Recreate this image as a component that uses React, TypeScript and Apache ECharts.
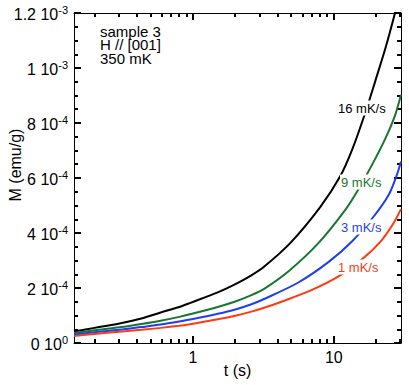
import React, { useEffect, useRef } from 'react';
import * as echarts from 'echarts';

// ---- data (t in s, M in emu/g) ----
const blackT = [0.143, 0.2, 0.29, 0.43, 0.59, 0.8, 0.97, 1.5, 1.97, 2.58, 3.21, 4.92, 8.03, 11.1, 13.5, 16.8, 19.8, 23.5, 27.2];
const blackM = [4.2e-5, 5.5e-5, 6.9e-5, 8.9e-5, 1.11e-4, 1.31e-4, 1.47e-4, 1.84e-4, 2.12e-4, 2.45e-4, 2.78e-4, 3.64e-4, 4.95e-4, 6.06e-4, 7.03e-4, 8.4e-4, 9.56e-4, 1.08e-3, 1.2e-3];

const greenT = [0.143, 0.2, 0.3, 0.43, 0.59, 0.8, 1, 1.5, 2, 2.6, 3.2, 4.8, 7.8, 12.1, 15, 19, 23.3, 27.1, 30];
const greenM = [3.6e-5, 4.6e-5, 5.7e-5, 6.9e-5, 8.1e-5, 9.5e-5, 1.07e-4, 1.31e-4, 1.51e-4, 1.74e-4, 1.97e-4, 2.62e-4, 3.64e-4, 4.85e-4, 5.6e-4, 6.55e-4, 7.45e-4, 8.25e-4, 9.03e-4];

const blueT = [0.143, 0.2, 0.3, 0.43, 0.59, 0.8, 1, 1.5, 2, 2.6, 3.2, 5.6, 9.2, 13.5, 19.2, 24.6, 28.2, 30];
const blueM = [3.1e-5, 3.9e-5, 4.8e-5, 5.8e-5, 6.7e-5, 7.8e-5, 8.7e-5, 1.06e-4, 1.22e-4, 1.41e-4, 1.6e-4, 2.2e-4, 2.95e-4, 3.7e-4, 4.6e-4, 5.4e-4, 6.15e-4, 6.6e-4];

const redT = [0.143, 0.2, 0.3, 0.43, 0.59, 0.8, 1, 1.5, 2, 2.6, 3.2, 4.3, 7, 10.8, 15.9, 21.4, 26, 30];
const redM = [2.5e-5, 3.3e-5, 4.1e-5, 4.8e-5, 5.5e-5, 6.3e-5, 7.0e-5, 8.6e-5, 9.9e-5, 1.14e-4, 1.28e-4, 1.51e-4, 1.93e-4, 2.42e-4, 3.05e-4, 3.68e-4, 4.28e-4, 4.87e-4];

const seriesNames = ['16 mK/s', '9 mK/s', '3 mK/s', '1 mK/s'];
const seriesColors = ['#000000', '#17762f', '#1f3ef0', '#ff3a12'];

// ---- axes ----
const X_MIN = 0.143;
const X_MAX = 30;
const xMajorTicks = [1, 10];
const xTickLabels = ['1', '10'];
const xMinorTicks = [0.2, 0.3, 0.4, 0.5, 0.6, 0.7, 0.8, 0.9, 2, 3, 4, 5, 6, 7, 8, 9, 20, 30];

const Y_MIN = 0;
const Y_MAX = 1.2e-3;
const Y_INTERVAL = 2e-4;
const yTickMantissa = ['0', '2', '4', '6', '8', '1', '1.2'];
const yTickExponent = ['0', '-4', '-4', '-4', '-4', '-3', '-3'];

const infoLines = ['sample 3', 'H // [001]', '350 mK'];

const FONT = '"Liberation Sans", Arial, Helvetica, sans-serif';
const MAJOR_LEN = 7;
const MINOR_LEN = 4;
const TICK_W = 2;

export default function App() {
  const ref = useRef<HTMLDivElement>(null);
  useEffect(() => {
    document.body.style.margin = '0';
    if (!ref.current) return;
    const chart = echarts.init(ref.current, undefined, { renderer: 'svg' });

    // x tick values on the log axis (major flag in 3rd slot)
    const xTickData = [
      ...xMajorTicks.map((t) => [t, Y_MIN, 1]),
      ...xMinorTicks.map((t) => [t, Y_MIN, 0]),
    ];

    const xTickSeries = {
      type: 'custom',
      data: xTickData,
      renderItem: (_p: any, api: any) => {
        const t = api.value(0);
        const len = api.value(2) ? MAJOR_LEN : MINOR_LEN;
        const b = api.coord([t, Y_MIN]);
        const top = api.coord([t, Y_MAX]);
        const xr = api.coord([X_MAX, Y_MIN])[0];
        const x = Math.min(Math.round(b[0] - TICK_W / 2), xr - TICK_W);
        return {
          type: 'group',
          children: [
            { type: 'rect', shape: { x, y: b[1] - len, width: TICK_W, height: len }, style: { fill: '#000' } },
            { type: 'rect', shape: { x, y: top[1], width: TICK_W, height: len }, style: { fill: '#000' } },
          ],
        };
      },
    };

    const xAx = (position: string, labels: boolean) => ({
      type: 'log',
      logBase: 10,
      gridIndex: 0,
      position,
      min: X_MIN,
      max: X_MAX,
      name: labels ? 't (s)' : '',
      nameLocation: 'middle',
      nameGap: 19,
      nameMoveOverlap: false,
      nameTextStyle: { fontSize: 16, color: '#000', fontFamily: FONT },
      axisLine: { show: true, onZero: false, lineStyle: { color: '#000', width: 1 } },
      axisTick: { show: false },
      axisLabel: labels
        ? {
            show: true,
            customValues: xMajorTicks,
            margin: 6,
            fontSize: 16,
            color: '#000',
            fontFamily: FONT,
            formatter: (v: number) => {
              const i = xMajorTicks.findIndex((t) => Math.abs(Math.log10(t) - Math.log10(v)) < 1e-6);
              return i >= 0 ? xTickLabels[i] : '';
            },
          }
        : { show: false },
      splitLine: { show: false },
      minorSplitLine: { show: false },
    });

    const yAx = (position: string, labels: boolean) => ({
      type: 'value',
      position,
      min: Y_MIN,
      max: Y_MAX,
      interval: Y_INTERVAL,
      axisLine: { show: true, onZero: false, lineStyle: { color: '#000', width: 1 } },
      axisTick: { show: true, inside: true, length: MAJOR_LEN, lineStyle: { color: '#000', width: TICK_W } },
      minorTick: { show: true, splitNumber: 4, length: MINOR_LEN, lineStyle: { color: '#000', width: TICK_W } },
      splitLine: { show: false },
      minorSplitLine: { show: false },
      axisLabel: labels
        ? {
            show: true,
            margin: 6,
            color: '#000',
            fontFamily: FONT,
            formatter: (_v: number, idx: number) =>
              `{m|${yTickMantissa[idx]} 10}{e|${yTickExponent[idx]}}`,
            rich: {
              m: { fontSize: 16, fontFamily: FONT, color: '#000', verticalAlign: 'bottom' },
              e: { fontSize: 11, fontFamily: FONT, color: '#000', verticalAlign: 'bottom', padding: [0, 0, 7, 0] },
            },
          }
        : { show: false },
    });

    const ts = [blackT, greenT, blueT, redT];
    const ms = [blackM, greenM, blueM, redM];

    const labelPos = [
      [337, 108],
      [340, 182],
      [340, 227],
      [337, 267],
    ];

    chart.setOption({
      animation: false,
      grid: { left: 74, right: 8, top: 13, bottom: 42 },
      xAxis: [xAx('bottom', true), xAx('top', false)],
      yAxis: [yAx('left', true), yAx('right', false)],
      series: [
        ...ts.map((t, k) => ({
          name: seriesNames[k],
          type: 'line',
          data: t.map((tv, i) => [tv, ms[k][i]]),
          showSymbol: false,
          smooth: 0.3,
          clip: true,
          lineStyle: { color: seriesColors[k], width: 2 },
          z: 2,
        })),
        xTickSeries,
      ],
      graphic: [
        {
          type: 'text',
          rotation: Math.PI / 2,
          x: 15,
          y: 165,
          style: {
            text: 'M (emu/g)',
            fontSize: 16,
            fontFamily: FONT,
            fill: '#000',
            align: 'center',
            verticalAlign: 'middle',
          },
        },
        {
          type: 'text',
          x: 100,
          y: 24.5,
          style: {
            text: infoLines.join('\n'),
            fontSize: 15,
            lineHeight: 13.5,
            fontFamily: FONT,
            fill: '#000',
            align: 'left',
            verticalAlign: 'top',
          },
          z: 10,
        },
        ...seriesNames.map((s, k) => ({
          type: 'text',
          x: labelPos[k][0],
          y: labelPos[k][1],
          style: {
            text: s,
            fontSize: 13,
            fontFamily: FONT,
            fill: seriesColors[k],
            align: 'left',
            verticalAlign: 'middle',
            backgroundColor: '#fff',
            padding: [1, 1],
          },
          z: 10,
        })),
      ],
    });
    return () => chart.dispose();
  }, []);
  return <div ref={ref} style={{ width: 409, height: 385 }} />;
}
